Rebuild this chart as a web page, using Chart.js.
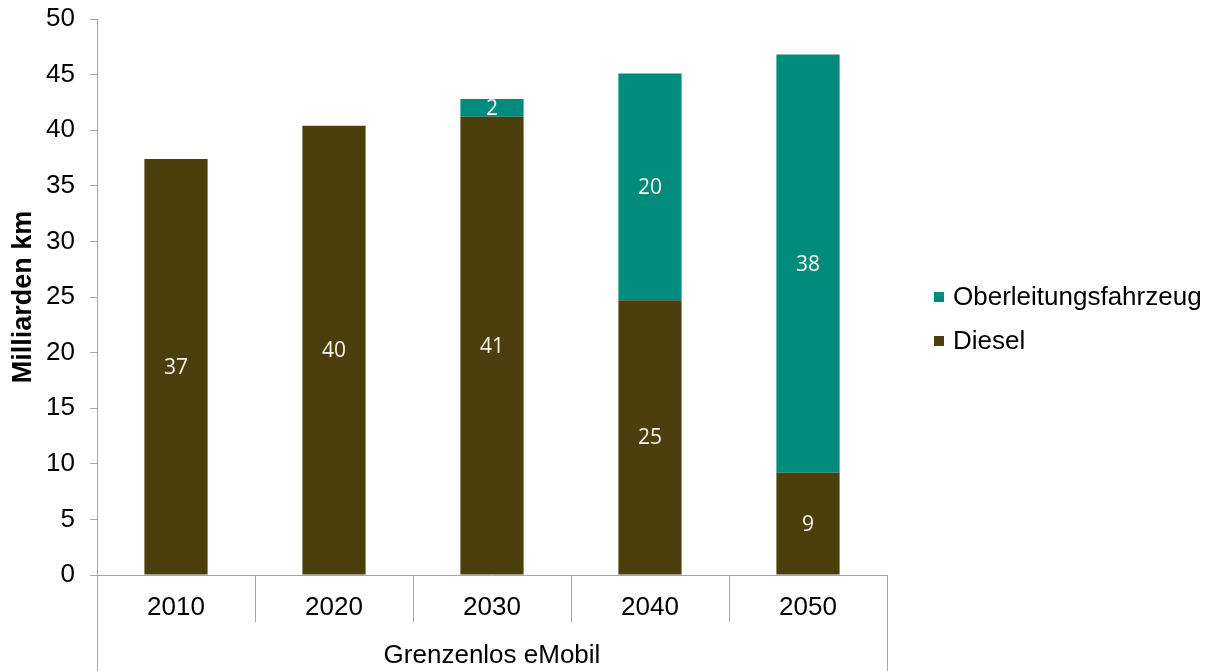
<!DOCTYPE html>
<html>
<head>
<meta charset="utf-8">
<script src="https://cdn.jsdelivr.net/npm/chart.js@4.4.0/dist/chart.umd.min.js"></script>
<style>
  html, body { margin: 0; padding: 0; background: #fff; }
  #wrap { position: relative; width: 1218px; height: 671px; }
  #legende { position: absolute; left: 934px; top: 278px; font: 26px "Liberation Sans", Arial, sans-serif; color: #000; }
  #legende div { height: 44px; line-height: 36px; white-space: nowrap; }
  #legende span { display: inline-block; width: 10px; height: 10px; margin-right: 9px; vertical-align: 3px; }
</style>
</head>
<body>
<div id="wrap"><canvas id="fahrleistung"></canvas><div id="legende"></div></div>
<script>
// Fahrleistung in Milliarden km
const jahre = ['2010', '2020', '2030', '2040', '2050'];
const diesel = [37.4, 40.4, 41.2, 24.7, 9.2];
const oberleitung = [null, null, 1.6, 20.4, 37.6];
const yMax = 50;
const yStep = 5;

const schrift = 'Liberation Sans, Arial, sans-serif';
const linienFarbe = '#a6a6a6';

// Werte mittig in die Balken schreiben
const wertLabels = {
  id: 'wertLabels',
  afterDatasetsDraw(chart) {
    const ctx = chart.ctx;
    ctx.save();
    ctx.font = '21px "Open Sans", sans-serif';
    ctx.fillStyle = '#f4f4ec';
    ctx.textAlign = 'center';
    ctx.textBaseline = 'middle';
    chart.data.datasets.forEach((ds, i) => {
      chart.getDatasetMeta(i).data.forEach((bar, j) => {
        const v = ds.data[j];
        if (v == null) return;
        const p = bar.getProps(['x', 'y', 'base'], true);
        ctx.fillText(Math.round(v), p.x, (p.y + p.base) / 2 + 1);
      });
    });
    ctx.restore();
  }
};

// Trennlinien zwischen den Jahren, aussen bis ganz nach unten
const kategorieLinien = {
  id: 'kategorieLinien',
  afterDraw(chart) {
    const x = chart.scales.x;
    const ctx = chart.ctx;
    const n = jahre.length;
    const schritt = x.width / n;
    ctx.save();
    ctx.strokeStyle = linienFarbe;
    ctx.lineWidth = 1;
    for (let i = 0; i <= n; i++) {
      const px = Math.round(x.left + i * schritt) + 0.5;
      const unten = (i === 0 || i === n) ? chart.height : x.top + 47;
      ctx.beginPath();
      ctx.moveTo(px, x.top);
      ctx.lineTo(px, unten);
      ctx.stroke();
    }
    ctx.restore();
  }
};

const ctx = document.getElementById('fahrleistung').getContext('2d');
const chart = new Chart(ctx, {
  type: 'bar',
  data: {
    labels: jahre,
    datasets: [
      {
        label: 'Diesel',
        data: diesel,
        backgroundColor: '#4a3f0d',
        barPercentage: 0.4,
        categoryPercentage: 1
      },
      {
        label: 'Oberleitungsfahrzeug',
        data: oberleitung,
        backgroundColor: '#008b7c',
        barPercentage: 0.4,
        categoryPercentage: 1
      }
    ]
  },
  options: {
    responsive: true,
    maintainAspectRatio: false,
    animation: false,
    layout: { padding: { top: 0, right: 331, left: 0, bottom: 0 } },
    scales: {
      x: {
        stacked: true,
        grid: { display: false, drawTicks: false },
        border: { color: linienFarbe },
        ticks: { color: '#000', font: { family: schrift, size: 26 }, padding: 17 },
        title: {
          display: true,
          text: 'Grenzenlos eMobil',
          color: '#000',
          font: { family: schrift, size: 26 },
          padding: { top: 12, bottom: 0 }
        },
        afterFit(scale) { scale.height = 96; }
      },
      y: {
        stacked: true,
        min: 0,
        max: yMax,
        ticks: { stepSize: yStep, color: '#000', font: { family: schrift, size: 26 }, padding: 15 },
        grid: { drawOnChartArea: false, tickLength: 7, color: linienFarbe },
        border: { color: linienFarbe },
        title: {
          display: true,
          text: 'Milliarden km',
          color: '#000',
          font: { family: schrift, size: 27, weight: 'bold' },
          padding: { top: 7, bottom: 4 }
        },
        afterFit(scale) {
          scale.width = 97;
          scale.paddingTop = 19;
          scale.paddingBottom = 0;
        }
      }
    },
    plugins: {
      legend: { display: false },
      tooltip: { enabled: false }
    }
  },
  plugins: [wertLabels, kategorieLinien]
});

// Legende: Oberleitungsfahrzeug oben, Diesel darunter
const legende = document.getElementById('legende');
chart.data.datasets.slice().reverse().forEach(ds => {
  const zeile = document.createElement('div');
  const box = document.createElement('span');
  box.style.background = ds.backgroundColor;
  zeile.appendChild(box);
  zeile.appendChild(document.createTextNode(ds.label));
  legende.appendChild(zeile);
});
</script>
</body>
</html>
